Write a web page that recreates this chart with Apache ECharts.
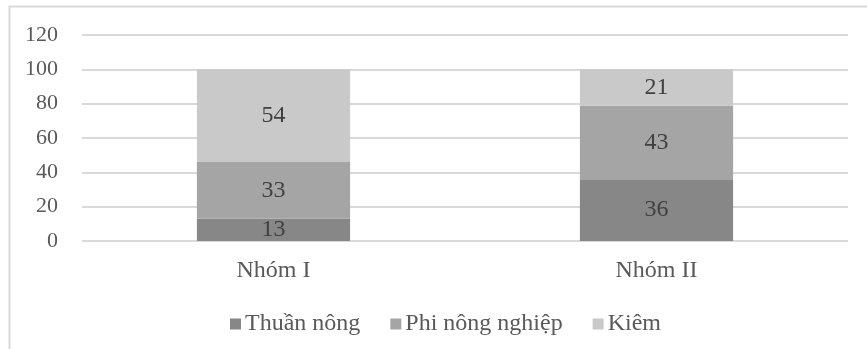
<!DOCTYPE html>
<html>
<head>
<meta charset="utf-8">
<script src="https://cdn.jsdelivr.net/npm/echarts@6/dist/echarts.min.js"></script>
<style>
  html, body { margin: 0; padding: 0; background: #ffffff; }
  #chart { width: 867px; height: 349px; }
</style>
</head>
<body>
<div id="chart"></div>
<script>
// Household groups and the share (%) of each livelihood type
const categories = ['Nhóm I', 'Nhóm II'];
const thuanNong = [13, 36];
const phiNongNghiep = [33, 43];
const kiem = [54, 21];
const yTicks = [0, 20, 40, 60, 80, 100, 120];

const seriesNames = ['Thuần nông', 'Phi nông nghiệp', 'Kiêm'];
const seriesColors = ['#878787', '#a5a5a5', '#c9c9c9'];
const seriesData = [thuanNong, phiNongNghiep, kiem];

const FONT = '"Liberation Serif", "DejaVu Serif", serif';

const chart = echarts.init(document.getElementById('chart'), null, { renderer: 'canvas' });

chart.setOption({
  backgroundColor: '#ffffff',
  animation: false,
  graphic: [{
    type: 'rect',
    shape: { x: 9.5, y: 6.5, width: 900, height: 400 },
    style: { fill: 'none', stroke: '#d9d9d9', lineWidth: 2 },
    silent: true,
    z: -1
  }],
  grid: { left: 82, right: 19, top: 35, bottom: 108 },
  legend: {
    bottom: 8,
    left: 225,
    itemWidth: 11,
    itemHeight: 11,
    itemGap: 30,
    icon: 'rect',
    textStyle: { fontFamily: FONT, fontSize: 24, color: '#595959', padding: [0, 0, 0, -1] },
    data: seriesNames
  },
  xAxis: {
    type: 'category',
    data: categories,
    axisLine: { show: false },
    axisTick: { show: false },
    axisLabel: { fontFamily: FONT, fontSize: 24, color: '#595959', margin: 18 }
  },
  yAxis: {
    type: 'value',
    min: yTicks[0],
    max: yTicks[yTicks.length - 1],
    interval: 20,
    axisLine: { show: false },
    axisTick: { show: false },
    axisLabel: { fontFamily: FONT, fontSize: 22, color: '#595959', margin: 24 },
    splitLine: { lineStyle: { color: '#d9d9d9', width: 2 } }
  },
  series: seriesNames.map((name, i) => ({
    name: name,
    type: 'bar',
    stack: 'total',
    barWidth: '40%',
    data: seriesData[i],
    itemStyle: { color: seriesColors[i] },
    label: {
      show: true,
      position: 'inside',
      fontFamily: FONT,
      fontSize: 24,
      color: '#404040'
    }
  }))
});
</script>
</body>
</html>
